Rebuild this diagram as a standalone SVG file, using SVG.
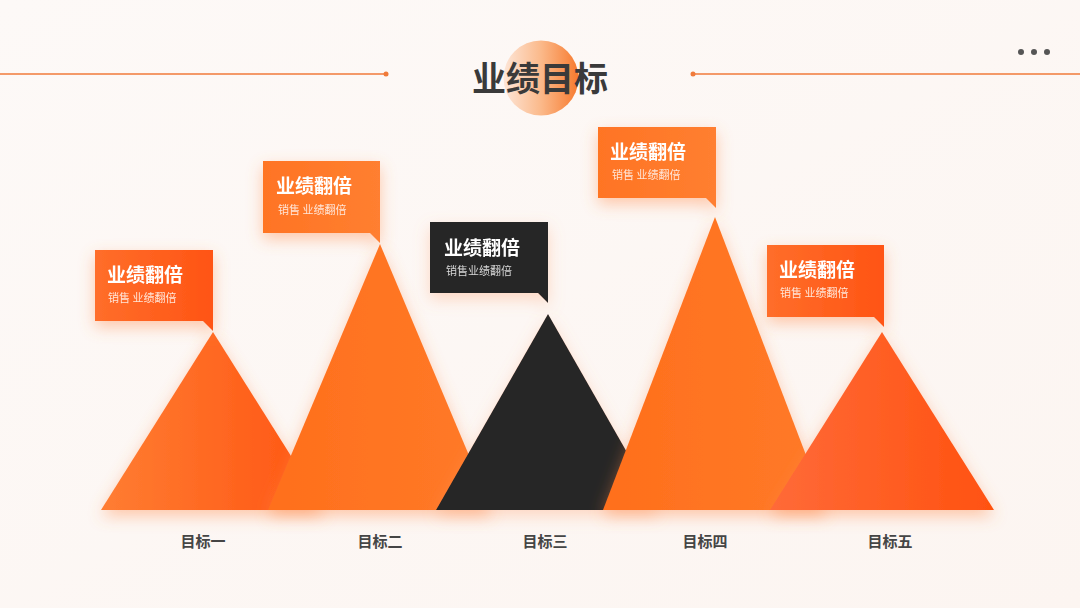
<svg xmlns="http://www.w3.org/2000/svg" width="1080" height="608" viewBox="0 0 1080 608">
<defs>
<style>
.ttl{font-family:"Noto Sans CJK SC","Noto Sans",sans-serif;font-weight:700;font-size:34px;fill:#3a3a3a}
.bh{font-family:"Noto Sans CJK SC","Noto Sans",sans-serif;font-weight:700;font-size:19px;fill:#ffffff}
.bs{font-family:"Noto Sans CJK SC","Noto Sans",sans-serif;font-size:11px;fill:#ffe6d8}
.bsd{font-family:"Noto Sans CJK SC","Noto Sans",sans-serif;font-size:11px;fill:#d8d8d8}
.lb{font-family:"Noto Sans CJK SC","Noto Sans",sans-serif;font-weight:700;font-size:15px;fill:#454545;text-anchor:middle}
.hl{stroke:#f07a3a;stroke-width:1.5}
</style>
<linearGradient id="bg" x1="0" y1="0" x2="1" y2="1">
<stop offset="0" stop-color="#fdf9f7"/><stop offset="1" stop-color="#fcf5f1"/>
</linearGradient>
<linearGradient id="circ" x1="0" y1="0" x2="1" y2="0">
<stop offset="0" stop-color="#fde6d8"/><stop offset="0.5" stop-color="#fbb98a"/><stop offset="1" stop-color="#f77a2e"/>
</linearGradient>
<linearGradient id="o1" x1="0" y1="0" x2="1" y2="0">
<stop offset="0" stop-color="#ff7d32"/><stop offset="1" stop-color="#ff5412"/>
</linearGradient>
<linearGradient id="o2" x1="0" y1="0" x2="1" y2="0">
<stop offset="0" stop-color="#ff6f1c"/><stop offset="1" stop-color="#ff7a28"/>
</linearGradient>
<linearGradient id="o5" x1="0" y1="0" x2="1" y2="0">
<stop offset="0" stop-color="#ff6a38"/><stop offset="1" stop-color="#ff5210"/>
</linearGradient>
<linearGradient id="bx1" x1="0" y1="0" x2="1" y2="0">
<stop offset="0" stop-color="#ff6e2a"/><stop offset="1" stop-color="#ff5414"/>
</linearGradient>
<linearGradient id="bx2" x1="0" y1="0" x2="1" y2="0">
<stop offset="0" stop-color="#ff7424"/><stop offset="1" stop-color="#ff7f30"/>
</linearGradient>
<filter id="glow" x="-30%" y="-30%" width="160%" height="170%">
<feGaussianBlur in="SourceAlpha" stdDeviation="8"/>
<feOffset dy="6" result="b"/>
<feFlood flood-color="#ff8a4a" flood-opacity="0.45"/>
<feComposite in2="b" operator="in"/>
<feMerge><feMergeNode/><feMergeNode in="SourceGraphic"/></feMerge>
</filter>
<filter id="glowd" x="-30%" y="-30%" width="160%" height="170%">
<feGaussianBlur in="SourceAlpha" stdDeviation="8"/>
<feOffset dy="6" result="b"/>
<feFlood flood-color="#ff9a66" flood-opacity="0.35"/>
<feComposite in2="b" operator="in"/>
<feMerge><feMergeNode/><feMergeNode in="SourceGraphic"/></feMerge>
</filter>
</defs>
<rect width="1080" height="608" fill="url(#bg)"/>

<g id="header">
<line class="hl" x1="0" y1="74" x2="386" y2="74"/>
<circle cx="386" cy="74" r="2.5" fill="#f07a3a"/>
<line class="hl" x1="693" y1="74" x2="1080" y2="74"/>
<circle cx="693" cy="74" r="2.5" fill="#f07a3a"/>
<circle cx="541" cy="78" r="37.5" fill="url(#circ)"/>
<text class="ttl" x="540" y="91" text-anchor="middle">业绩目标</text>
<circle cx="1021" cy="52" r="3" fill="#555"/>
<circle cx="1034" cy="52" r="3" fill="#555"/>
<circle cx="1047" cy="52" r="3" fill="#555"/>
</g>

<g id="mountains">
<polygon id="tri1" points="213,332 325,510 101,510" fill="url(#o1)" filter="url(#glow)"/>
<polygon id="tri2" points="380,244 492,510 268,510" fill="url(#o2)" filter="url(#glow)"/>
<polygon id="tri3" points="548,314 660,510 436,510" fill="#262626" filter="url(#glowd)"/>
<polygon id="tri4" points="715,217 827,510 603,510" fill="url(#o2)" filter="url(#glow)"/>
<polygon id="tri5" points="882,332 994,510 770,510" fill="url(#o5)" filter="url(#glow)"/>
</g>

<g id="callout1" filter="url(#glow)">
<rect x="95" y="250" width="118" height="71" fill="url(#bx1)"/>
<polygon points="203,321 213,321 213,331" fill="#ff5414"/>
<text class="bh" x="107" y="282">业绩翻倍</text>
<text class="bs" x="108" y="302">销售 业绩翻倍</text>
</g>
<g id="callout2" filter="url(#glow)">
<rect x="263" y="161" width="117" height="72" fill="url(#bx2)"/>
<polygon points="370,233 380,233 380,243" fill="#ff7f30"/>
<text class="bh" x="276" y="193">业绩翻倍</text>
<text class="bs" x="278" y="214">销售 业绩翻倍</text>
</g>
<g id="callout3" filter="url(#glowd)">
<rect x="430" y="222" width="118" height="71" fill="#262626"/>
<polygon points="538,293 548,293 548,303" fill="#262626"/>
<text class="bh" x="444" y="255">业绩翻倍</text>
<text class="bsd" x="446" y="275">销售业绩翻倍</text>
</g>
<g id="callout4" filter="url(#glow)">
<rect x="598" y="127" width="118" height="71" fill="url(#bx2)"/>
<polygon points="706,198 716,198 716,208" fill="#ff7f30"/>
<text class="bh" x="610" y="159">业绩翻倍</text>
<text class="bs" x="612" y="179">销售 业绩翻倍</text>
</g>
<g id="callout5" filter="url(#glow)">
<rect x="767" y="245" width="117" height="72" fill="url(#bx1)"/>
<polygon points="874,317 884,317 884,327" fill="#ff5414"/>
<text class="bh" x="779" y="277">业绩翻倍</text>
<text class="bs" x="780" y="297">销售 业绩翻倍</text>
</g>

<g id="labels">
<text class="lb" x="203" y="547">目标一</text>
<text class="lb" x="380" y="547">目标二</text>
<text class="lb" x="545" y="547">目标三</text>
<text class="lb" x="705" y="547">目标四</text>
<text class="lb" x="890" y="547">目标五</text>
</g>
</svg>
